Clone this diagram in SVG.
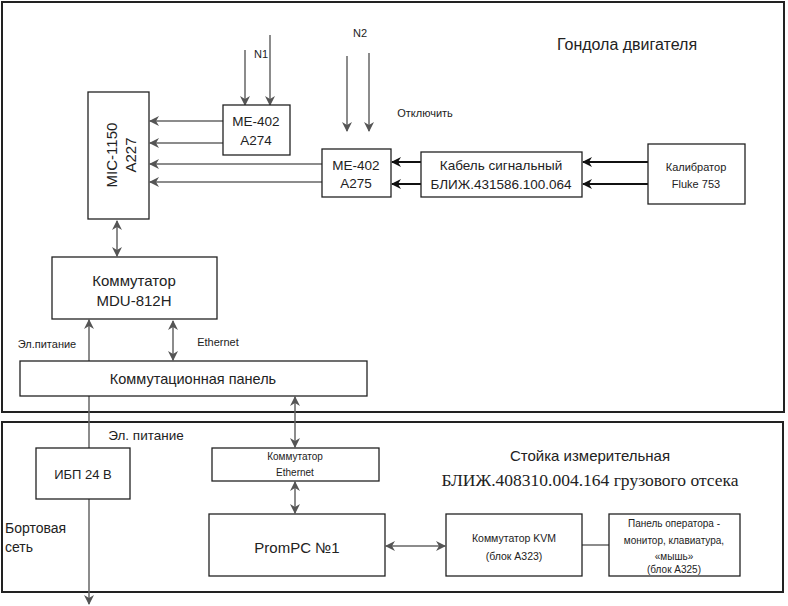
<svg xmlns="http://www.w3.org/2000/svg" width="788" height="606" viewBox="0 0 788 606">
<defs>
<marker id="ag" viewBox="0 0 10 10" refX="9" refY="5" markerWidth="10" markerHeight="10" markerUnits="userSpaceOnUse" orient="auto-start-reverse"><path d="M0,0 L10,5 L0,10 L3,5 z" fill="#555"/></marker>
<marker id="ab" viewBox="0 0 10 10" refX="9" refY="5" markerWidth="10" markerHeight="10" markerUnits="userSpaceOnUse" orient="auto-start-reverse"><path d="M0,0 L10,5 L0,10 L3,5 z" fill="#111"/></marker>
</defs>
<style>
.frame{fill:none;stroke:#222;stroke-width:2}
.box{fill:#fff;stroke:#222;stroke-width:1.3}
.t{font-family:"Liberation Sans",Arial,sans-serif;fill:#222;text-anchor:middle;dominant-baseline:central}
.gl{stroke:#666;stroke-width:1.5;fill:none}
.bl{stroke:#111;stroke-width:2;fill:none}
</style>
<rect width="788" height="606" fill="#fff"/>
<g id="frame-top"><rect class="frame" x="2" y="2" width="782" height="410"/></g>
<g id="frame-bottom"><rect class="frame" x="2" y="422" width="781" height="170"/></g>

<g id="connectors">
<line class="gl" x1="245" y1="50" x2="245" y2="105" marker-end="url(#ag)"/>
<line class="gl" x1="270" y1="35" x2="270" y2="105" marker-end="url(#ag)"/>
<line class="gl" x1="347" y1="56" x2="347" y2="131" marker-end="url(#ag)"/>
<line class="gl" x1="369" y1="53" x2="369" y2="131" marker-end="url(#ag)"/>
<line class="gl" x1="223" y1="121" x2="150" y2="121" marker-end="url(#ag)"/>
<line class="gl" x1="223" y1="143" x2="150" y2="143" marker-end="url(#ag)"/>
<line class="gl" x1="322" y1="164" x2="150" y2="164" marker-end="url(#ag)"/>
<line class="gl" x1="322" y1="182" x2="150" y2="182" marker-end="url(#ag)"/>
<line class="bl" x1="421" y1="162" x2="392" y2="162" marker-end="url(#ab)"/>
<line class="bl" x1="421" y1="184" x2="392" y2="184" marker-end="url(#ab)"/>
<line class="bl" x1="648" y1="162" x2="583" y2="162" marker-end="url(#ab)"/>
<line class="bl" x1="648" y1="184" x2="583" y2="184" marker-end="url(#ab)"/>
<line class="gl" x1="117" y1="221" x2="117" y2="256" marker-start="url(#ag)" marker-end="url(#ag)"/>
<line class="gl" x1="89" y1="361" x2="89" y2="320" marker-end="url(#ag)"/>
<line class="gl" x1="173" y1="321" x2="173" y2="360" marker-start="url(#ag)" marker-end="url(#ag)"/>
<line class="gl" x1="89" y1="396" x2="89" y2="448"/>
<line class="gl" x1="89" y1="499" x2="89" y2="604" marker-end="url(#ag)"/>
<line class="gl" x1="295" y1="397" x2="295" y2="447" marker-start="url(#ag)" marker-end="url(#ag)"/>
<line class="gl" x1="295" y1="482" x2="295" y2="513" marker-start="url(#ag)" marker-end="url(#ag)"/>
<line class="gl" x1="386" y1="546" x2="445" y2="546" marker-start="url(#ag)" marker-end="url(#ag)"/>
<line class="gl" x1="582" y1="545" x2="609" y2="545"/>
</g>

<g id="mic"><rect class="box" x="88" y="92" width="61" height="127"/>
<text class="t" font-size="15" transform="translate(111,155) rotate(-90)">MIC-1150</text>
<text class="t" font-size="15" transform="translate(130,155) rotate(-90)">A227</text></g>
<g id="me274"><rect class="box" x="223" y="105" width="67" height="50"/>
<text class="t" font-size="13.5" x="256" y="121">ME-402</text><text class="t" font-size="13.5" x="256" y="140">A274</text></g>
<g id="me275"><rect class="box" x="322" y="149" width="69" height="48"/>
<text class="t" font-size="13.5" x="356" y="165">ME-402</text><text class="t" font-size="13.5" x="356" y="183">A275</text></g>
<g id="cable"><rect class="box" x="421" y="152" width="161" height="45"/>
<text class="t" font-size="13.5" x="501" y="165">Кабель сигнальный</text><text class="t" font-size="13.5" x="501" y="184">БЛИЖ.431586.100.064</text></g>
<g id="fluke"><rect class="box" x="648" y="144" width="97" height="60"/>
<text class="t" font-size="11" x="696" y="167">Калибратор</text><text class="t" font-size="11" x="696" y="184">Fluke 753</text></g>
<g id="mdu"><rect class="box" x="52" y="257" width="165" height="62"/>
<text class="t" font-size="15" x="134" y="280">Коммутатор</text><text class="t" font-size="15" x="134" y="300">MDU-812H</text></g>
<g id="panel"><rect class="box" x="20" y="361" width="347" height="35"/>
<text class="t" font-size="14.5" x="193" y="379">Коммутационная панель</text></g>
<g id="ups"><rect class="box" x="36" y="448" width="94" height="51"/>
<text class="t" font-size="13" x="83" y="474">ИБП 24 В</text></g>
<g id="eth"><rect class="box" x="212" y="448" width="167" height="33"/>
<text class="t" font-size="10" x="295" y="456">Коммутатор</text><text class="t" font-size="10" x="295" y="472">Ethernet</text></g>
<g id="prompc"><rect class="box" x="209" y="514" width="176" height="62"/>
<text class="t" font-size="15" x="297" y="547">PromPC №1</text></g>
<g id="kvm"><rect class="box" x="446" y="514" width="136" height="62"/>
<text class="t" font-size="10.5" x="514" y="538">Коммутатор KVM</text><text class="t" font-size="10.5" x="514" y="556">(блок А323)</text></g>
<g id="operator"><rect class="box" x="609" y="514" width="131" height="62"/>
<text class="t" font-size="10" x="674" y="523">Панель оператора -</text><text class="t" font-size="10" x="674" y="540">монитор, клавиатура,</text><text class="t" font-size="10" x="674" y="556">«мышь»</text><text class="t" font-size="10" x="674" y="569">(блок А325)</text></g>

<g id="labels">
<text class="t" font-size="11" x="261" y="54">N1</text>
<text class="t" font-size="11" x="360" y="33">N2</text>
<text class="t" font-size="11" x="425" y="113">Отключить</text>
<text class="t" font-size="16" x="627" y="44">Гондола двигателя</text>
<text class="t" font-size="11" x="47" y="344">Эл.питание</text>
<text class="t" font-size="11" x="218" y="342">Ethernet</text>
<text class="t" font-size="13.5" x="146" y="435">Эл. питание</text>
<text class="t" font-size="14" x="5" y="528" style="text-anchor:start">Бортовая</text>
<text class="t" font-size="14" x="5" y="547" style="text-anchor:start">сеть</text>
<text class="t" font-size="15" x="590" y="455">Стойка измерительная</text>
<text class="t" font-size="17.5" x="590" y="480" style="font-family:'Liberation Serif','Times New Roman',serif">БЛИЖ.408310.004.164 грузового отсека</text>
</g>
</svg>
